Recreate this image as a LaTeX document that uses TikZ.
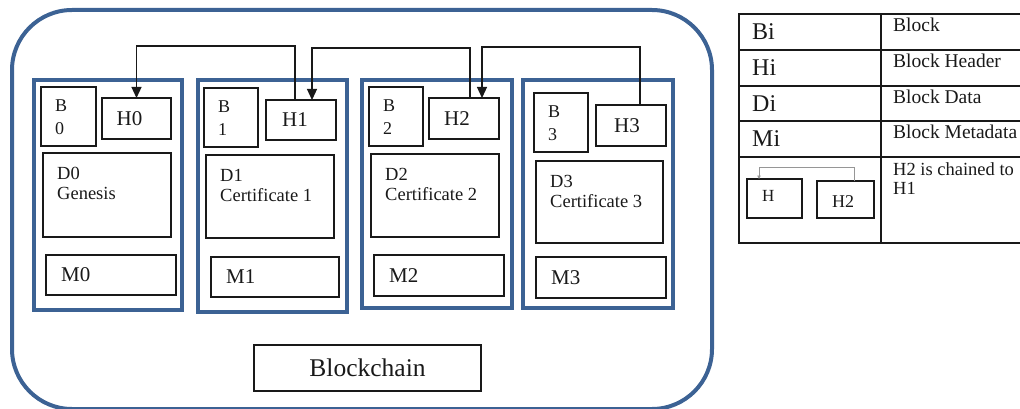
\documentclass[tikz,border=0pt]{standalone}
\usepackage{fontspec}
\setmainfont{Liberation Serif}
\usetikzlibrary{arrows.meta,calc}
\definecolor{frameblue}{RGB}{60,98,148}
\definecolor{ink}{RGB}{25,25,25}
\definecolor{thin}{RGB}{150,150,150}
\begin{document}
\begin{tikzpicture}[x=1pt,y=-1pt, font=\rmfamily,
  sz/.style 2 args={minimum width=#1pt, minimum height=#2pt},
  bframe/.style={draw=frameblue, line width=4pt, rectangle, inner sep=0pt, outer sep=0pt, anchor=north west},
  ibox/.style={draw=ink, line width=1.2pt, rectangle, inner sep=0pt, outer sep=0pt, anchor=north west, text=ink},
  hbox/.style={ibox, font=\fontsize{21}{23}\selectfont},
  btxt/.style={label={[anchor=north west, inner sep=0pt, xshift=14pt, yshift=-13pt, align=left, text=ink, font=\fontsize{18}{23}\selectfont]north west:#1}},
  dtxt/.style={label={[anchor=north west, inner sep=0pt, xshift=14pt, yshift=-14pt, align=left, text=ink, font=\fontsize{18.5}{20}\selectfont]north west:#1}},
  mtxt/.style={label={[anchor=west, inner sep=0pt, xshift=15pt, text=ink, font=\fontsize{21}{23}\selectfont]west:#1}},
  conn/.style={draw=ink, line width=1.2pt, -{Triangle[width=10pt,length=11pt]}},
  tcell/.style={draw=ink, line width=1.2pt, rectangle, inner sep=0pt, outer sep=0pt, anchor=north west},
  ltxt/.style={label={[anchor=west, inner sep=0pt, xshift=13pt, text=ink, font=\fontsize{24}{26}\selectfont]west:#1}},
  rtxt/.style={label={[anchor=north west, inner sep=0pt, xshift=12pt, yshift=-4pt, align=left, text=ink, font=\fontsize{19.5}{20}\selectfont]north west:#1}},
]
\useasboundingbox (0,0) rectangle (1020,409);

% outer blockchain frame
\node[draw=frameblue, line width=4pt, rounded corners=60pt, rectangle, inner sep=0pt, anchor=north west, sz={700}{399}] (chain) at (10,8) {};
\node[ibox, sz={227}{46}, font=\fontsize{25.5}{27}\selectfont] (bc) at (254,345) {Blockchain};

% block 0
\node[bframe, sz={148}{230}] (blk0) at (34,80) {};
\node[ibox, sz={55}{59}, btxt={B\\0}] (b0) at (41,87) {};
\node[hbox, sz={69}{41}] (h0) at (102,98) {H0\kern14pt};
\node[ibox, sz={128}{84}, dtxt={D0\\Genesis}] (d0) at (43,153) {};
\node[ibox, sz={130}{40}, mtxt={M0}] (m0) at (46,255) {};

% block 1
\node[bframe, sz={149}{232}] (blk1) at (198,80) {};
\node[ibox, sz={54}{59}, btxt={B\\1}] (b1) at (204,88) {};
\node[hbox, sz={70}{40}] (h1) at (266,100) {H1\kern12pt};
\node[ibox, sz={128}{83}, dtxt={D1\\Certificate 1}] (d1) at (206,155) {};
\node[ibox, sz={128}{40}, mtxt={M1}] (m1) at (211,257) {};

% block 2
\node[bframe, sz={150}{228}] (blk2) at (362,80) {};
\node[ibox, sz={54}{59}, btxt={B\\2}] (b2) at (369,87) {};
\node[hbox, sz={70}{41}] (h2) at (429,98) {H2\kern14pt};
\node[ibox, sz={128}{83}, dtxt={D2\\Certificate 2}] (d2) at (371,154) {};
\node[ibox, sz={130}{41}, mtxt={M2}] (m2) at (374,255) {};

% block 3
\node[bframe, sz={150}{228}] (blk3) at (523,80) {};
\node[ibox, sz={54}{59}, btxt={B\\3}] (b3) at (534,93) {};
\node[hbox, sz={70}{41}] (h3) at (596,105) {H3\kern8pt};
\node[ibox, sz={127}{82}, dtxt={D3\\Certificate 3}] (d3) at (536,161) {};
\node[ibox, sz={130}{41}, mtxt={M3}] (m3) at (536,257) {};

% chain links
\coordinate (y1) at (0,46);
\coordinate (y2) at (0,48);
\coordinate (y3) at (0,47);
\draw[conn] ([xshift=-6pt]h1.north) -- ([xshift=-6pt]h1.north |- y1) -| (h0.north);
\draw[conn] ([xshift=6pt]h2.north) -- ([xshift=6pt]h2.north |- y2) -| ([xshift=11pt]h1.north);
\draw[conn] ([xshift=9pt]h3.north) -- ([xshift=9pt]h3.north |- y3) -| ([xshift=18pt]h2.north);

% legend table
\node[tcell, sz={142}{36}, ltxt={Bi}] (lb) at (739,14) {};
\node[tcell, sz={159}{36}, rtxt={Block}] (rb) at (881,14) {};
\node[tcell, sz={142}{36}, ltxt={Hi}] (lh) at (739,50) {};
\node[tcell, sz={159}{36}, rtxt={Block Header}] (rh) at (881,50) {};
\node[tcell, sz={142}{35}, ltxt={Di}] (ld) at (739,86) {};
\node[tcell, sz={159}{35}, rtxt={Block Data}] (rd) at (881,86) {};
\node[tcell, sz={142}{36}, ltxt={Mi}] (lm) at (739,121) {};
\node[tcell, sz={159}{36}, rtxt={Block Metadata}] (rm) at (881,121) {};
\node[tcell, sz={142}{86}] (lc) at (739,157) {};
\node[tcell, sz={159}{86}, label={[anchor=north west, inner sep=0pt, xshift=12pt, yshift=-5pt, align=left, text=ink, font=\fontsize{18.5}{19}\selectfont]north west:H2 is chained to\\H1}] (rc) at (881,157) {};

% legend mini diagram
\node[ibox, sz={55}{39}, label={[anchor=north west, inner sep=0pt, xshift=15pt, yshift=-11pt, text=ink, font=\fontsize{17}{18}\selectfont]north west:H}] (lgh) at (747,179) {};
\node[ibox, sz={57}{37}, label={[anchor=north west, inner sep=0pt, xshift=15pt, yshift=-14pt, text=ink, font=\fontsize{18}{18}\selectfont]north west:H2}] (lgh2) at (817,181) {};
\draw[draw=thin, line width=0.8pt, -{Triangle[width=3.5pt,length=3.5pt]}] ([xshift=8.5pt]lgh2.north) -- ++(0,-14) -| ([xshift=-15.5pt]lgh.north);
\end{tikzpicture}
\end{document}
